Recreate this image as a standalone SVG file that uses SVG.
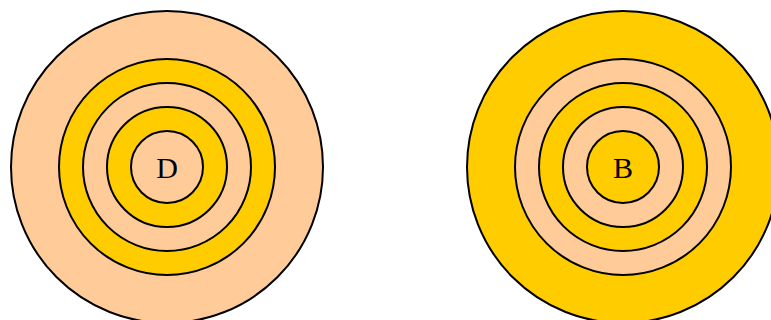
<svg xmlns="http://www.w3.org/2000/svg" width="771" height="320" viewBox="0 0 771 320">
<style>
circle{stroke:#000;stroke-width:2}
.p{fill:#FFCC99}
.g{fill:#FFCC00}
</style>
<g id="D">
<circle class="p" cx="167" cy="167" r="156"/>
<circle class="g" cx="167" cy="167" r="108"/>
<circle class="p" cx="167" cy="167" r="84"/>
<circle class="g" cx="167" cy="167" r="60"/>
<circle class="p" cx="167" cy="167" r="36"/>
<text x="167" y="177.5" font-family="Liberation Serif, Times New Roman, serif" font-size="30" text-anchor="middle" fill="#000">D</text>
</g>
<g id="B">
<circle class="g" cx="623" cy="167" r="156"/>
<circle class="p" cx="623" cy="167" r="108"/>
<circle class="g" cx="623" cy="167" r="84"/>
<circle class="p" cx="623" cy="167" r="60"/>
<circle class="g" cx="623" cy="167" r="36"/>
<text x="623" y="177.5" font-family="Liberation Serif, Times New Roman, serif" font-size="30" text-anchor="middle" fill="#000">B</text>
</g>
<g id="connectors"/>
</svg>
